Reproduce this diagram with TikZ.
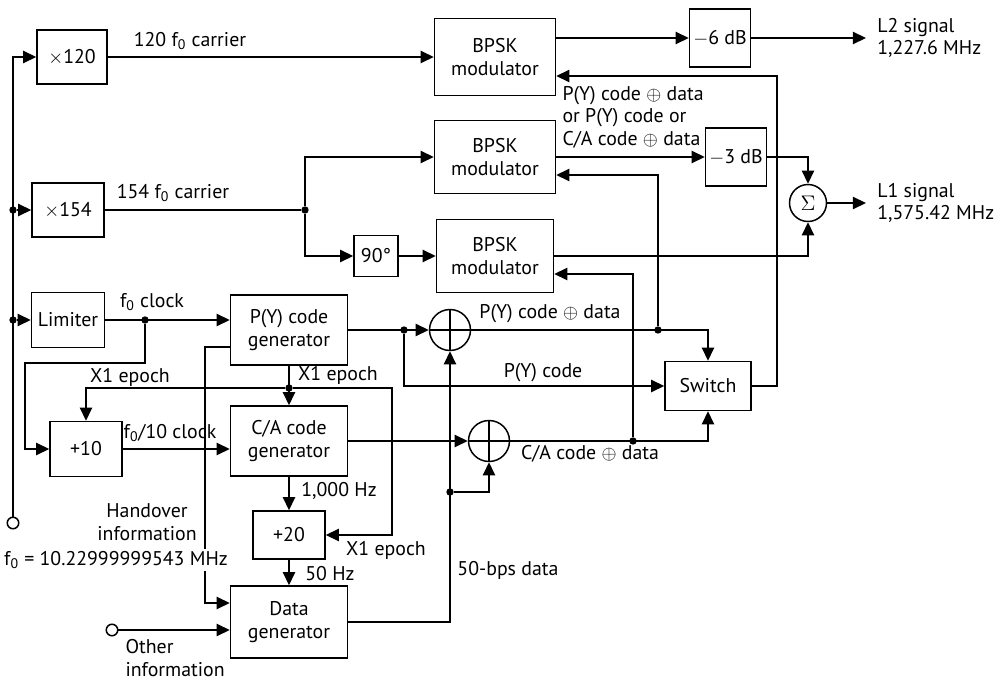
\documentclass[tikz,border=0pt]{standalone}
\usepackage{fontspec}
\setmainfont{PT Sans}
\usetikzlibrary{positioning, arrows.meta, calc}

\begin{document}
\begin{tikzpicture}[
  x=0.02cm, y=-0.02cm, line width=0.85pt,
  >={Triangle[length=7.5pt, width=7pt]},
  every node/.style={font=\fontsize{11.3}{12.8}\selectfont},
  sz/.style 2 args={minimum width=#1*0.02cm, minimum height=#2*0.02cm},
  blk/.style={draw, align=center, inner sep=1pt},
  xorop/.style={circle, draw, inner sep=0pt, minimum size=0.82cm,
    path picture={\draw (path picture bounding box.north) -- (path picture bounding box.south)
      (path picture bounding box.west) -- (path picture bounding box.east);}},
  sumop/.style={circle, draw, inner sep=0pt, minimum size=0.74cm, font=\fontsize{13}{13}\selectfont},
  port/.style={circle, draw, fill=white, inner sep=0pt, minimum size=0.23cm},
  lbl/.style={inner sep=1pt, align=left},
  dot/.style={circle, fill, inner sep=0pt, minimum size=4.2pt},
]
  \useasboundingbox (0,0) rectangle (1005,679);
  \node[blk, sz={70}{54}]   (mul120) at (72,57)   {$\times$120};
  \node[blk, sz={72}{54}]   (mul154) at (68,210)  {$\times$154};
  \node[blk, sz={73}{55}]   (lim)    at (68,320)  {Limiter};
  \node[blk, sz={72}{55}]   (div10)  at (86,449)  {+10};
  \node[blk, sz={117}{70}]  (pgen)   at (289,330) {P(Y) code\\generator};
  \node[blk, sz={117}{70}]  (cagen)  at (289,441) {C/A code\\generator};
  \node[blk, sz={72}{48}]   (div20)  at (289,535) {+20};
  \node[blk, sz={117}{72}]  (dgen)   at (289,622) {Data\\generator};
  \node[blk, sz={121}{77}]  (bpsk1)  at (495,57)  {BPSK\\modulator};
  \node[blk, sz={121}{73}]  (bpsk2)  at (495,157) {BPSK\\modulator};
  \node[blk, sz={117}{73}]  (bpsk3)  at (495,256) {BPSK\\modulator};
  \node[blk, sz={44}{41}]   (ninety) at (376,256) {90°};
  \node[blk, sz={61}{58}]   (att6)   at (720,38)  {$-$6 dB};
  \node[blk, sz={61}{58}]   (att3)   at (736,157) {$-$3 dB};
  \node[blk, sz={86}{49}]   (sw)     at (708,386) {Switch};
  \node[sumop] (sum) at (808,203) {$\Sigma$};
  \node[xorop] (xp)  at (450,330) {};
  \node[xorop] (xc)  at (489,441) {};
  \node[port]  (fin) at (13,523)  {};
  \node[port]  (oin) at (112,630) {};
  \node[lbl, anchor=west, inner xsep=6pt] (l2sig) at (866,38)  {L2 signal\\1,227.6 MHz};
  \node[lbl, anchor=west, inner xsep=6pt] (l1sig) at (866,203) {L1 signal\\1,575.42 MHz};

  % carriers
  \node[dot] (j154) at (13,210) {};
  \node[dot] (jlim) at (13,320) {};
  \draw[->] (fin) |- (mul120);
  \draw[->] (j154) -- (mul154);
  \draw[->] (jlim) -- (lim);
  \draw[->] (mul120) -- (bpsk1);
  \node[dot] (jcar) at (305,210) {};
  \draw (mul154) -- (jcar);
  \draw[->] (jcar) |- (bpsk2);
  \draw[->] (jcar) |- (ninety);
  \draw[->] (ninety) -- (bpsk3);
  \draw[->] (bpsk1.east |- att6) -- (att6);
  \draw[->] (att6) -- (l2sig);
  \draw[->] (bpsk2) -- (att3);
  \draw[->] (att3) -| (sum);
  \draw[->] (bpsk3) -| (sum);
  \draw[->] (sum) -- (l1sig);

  % codes
  \node[dot] (jclk) at (145,320) {};
  \draw[->] (lim) -- (lim -| pgen.west);
  \draw[->] (jclk) |- (25,363) |- (div10);
  \draw[->] (pgen) -- (cagen);
  \node[dot] (jx1) at (289,388) {};
  \draw[->] (jx1) -| (div10);
  \draw[->] (jx1) -- (392,388) |- (div20);
  \draw[->] (div10) -- (div10 -| cagen.west);
  \draw[->] (cagen) -- (div20);
  \draw[->] (div20) -- (dgen);
  \coordinate (ho) at (205,347);
  \draw[->] (pgen.west |- ho) -- (ho) |- ($(dgen.west)+(0,-19)$);
  \draw[->] (oin) -- (oin -| dgen.west);
  \draw[->] (dgen) -| (xp);
  \node[dot] (jdat) at (450,492) {};
  \draw[->] (jdat) -| (xc);
  \draw[->] (pgen) -- (xp);
  \node[dot] (jpy) at (404,330) {};
  \draw[->] (jpy) |- (sw);
  \draw[->] (xp) -| (sw);
  \node[dot] (jpyd) at (658,330) {};
  \draw[->] (jpyd) |- ($(bpsk2.east)+(0,18)$);
  \draw[->] (cagen) -- (xc);
  \draw[->] (xc) -| (sw);
  \node[dot] (jcad) at (633,441) {};
  \draw[->] (jcad) |- ($(bpsk3.east)+(0,18)$);
  \draw[->] (sw) -- (777,386) |- ($(bpsk1.east)+(0,19)$);

  % labels
  \node[lbl] (t120) at (190,41)  {120 f\textsubscript{0} carrier};
  \node[lbl] (t154) at (173,193) {154 f\textsubscript{0} carrier};
  \node[lbl] (tclk) at (152,302) {f\textsubscript{0} clock};
  \node[lbl] (tx1a) at (130,377) {X1 epoch};
  \node[lbl] (tx1b) at (338,375) {X1 epoch};
  \node[lbl] (tx1c) at (386,550) {X1 epoch};
  \node[lbl] (tdiv) at (170,433) {f\textsubscript{0}/10 clock};
  \node[lbl] (tkhz) at (339,491) {1,000 Hz};
  \node[lbl] (t50)  at (330,574) {50 Hz};
  \node[lbl] (tbps) at (508,570) {50-bps data};
  \node[lbl, align=center] (tho) at (147,522) {Handover\\information};
  \node[lbl, fill=white] (tf0) at (116,560) {f\textsubscript{0} = 10.22999999543 MHz};
  \node[lbl, anchor=west] (toth) at (123,658) {Other\\information};
  \node[lbl] (tpyd) at (550,314) {P(Y) code $\oplus$ data};
  \node[lbl] (tpy)  at (543,373) {P(Y) code};
  \node[lbl] (tcad) at (590,454) {C/A code $\oplus$ data};
  \node[lbl, anchor=west] (tsel) at (560,117) {P(Y) code $\oplus$ data\\or P(Y) code or\\C/A code $\oplus$ data};
\end{tikzpicture}
\end{document}
